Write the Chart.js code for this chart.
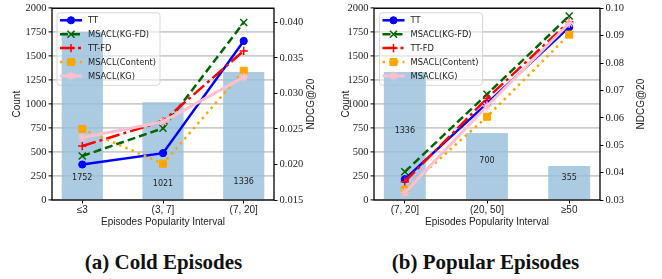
<!DOCTYPE html>
<html>
<head>
<meta charset="utf-8">
<script src="https://cdn.jsdelivr.net/npm/chart.js@4"></script>
<style>
  body { margin: 0; background: #fff; width: 662px; height: 279px; position: relative; overflow: hidden; }
  .panel { position: absolute; top: 0; width: 331px; height: 232px; }
  .caption { position: absolute; top: 249px; width: 331px; text-align: center;
             font: bold 21px "Liberation Serif", serif; color: #111; line-height: 26px; }
</style>
</head>
<body>
<div class="panel" style="left:0"><canvas id="cold"></canvas></div>
<div class="panel" style="left:331px"><canvas id="popular"></canvas></div>
<div class="caption" style="left:-2px">(a) Cold Episodes</div>
<div class="caption" style="left:320px">(b) Popular Episodes</div>
<script>
// values
const seriesNames = ["TT", "MSACL(KG-FD)", "TT-FD", "MSACL(Content)", "MSACL(KG)"];
const countTicks = [0, 250, 500, 750, 1000, 1250, 1500, 1750, 2000];

const coldCats = ["≤3", "(3, 7]", "(7, 20]"];
const coldCounts = [1752, 1021, 1336];
const coldTT = [0.0200, 0.0216, 0.0374];
const coldKGFD = [0.0212, 0.0251, 0.0400];
const coldTTFD = [0.0226, 0.0261, 0.0360];
const coldContent = [0.0250, 0.0201, 0.0332];
const coldKG = [0.0238, 0.0260, 0.0323];
const coldNdcgTicks = [0.015, 0.020, 0.025, 0.030, 0.035, 0.040];

const popCats = ["(7, 20]", "(20, 50]", "≥50"];
const popCounts = [1336, 700, 355];
const popTT = [0.0376, 0.0653, 0.0931];
const popKGFD = [0.0403, 0.0686, 0.0972];
const popTTFD = [0.0367, 0.0671, 0.0951];
const popContent = [0.0337, 0.0604, 0.0904];
const popKG = [0.0327, 0.0643, 0.0945];
const popNdcgTicks = [0.03, 0.04, 0.05, 0.06, 0.07, 0.08, 0.09, 0.10];

// line looks, same order as seriesNames
const looks = [
  { color: "#0000ff", dash: [], width: 2.5, point: "circle", r: 3.6, pw: 1 },
  { color: "#006400", dash: [8, 4], width: 2.5, point: "crossRot", r: 5, pw: 1.5 },
  { color: "#ff0000", dash: [14, 4, 3, 4], width: 2.5, point: "cross", r: 4.2, pw: 1.5 },
  { color: "#ffa500", dash: [2.5, 4.2], width: 2.5, point: "rect", r: 5, pw: 1 },
  { color: "#ffc0cb", dash: [], width: 3, point: "star", r: 4.5, pw: 1.5 },
];

function roundRect(ctx, x, y, w, h, r) {
  ctx.beginPath();
  ctx.moveTo(x + r, y);
  ctx.arcTo(x + w, y, x + w, y + h, r);
  ctx.arcTo(x + w, y + h, x, y + h, r);
  ctx.arcTo(x, y + h, x, y, r);
  ctx.arcTo(x, y, x + w, y, r);
  ctx.closePath();
}

function marker(ctx, lk, x, y) {
  ctx.fillStyle = lk.color;
  ctx.strokeStyle = lk.color;
  ctx.lineWidth = lk.pw;
  ctx.setLineDash([]);
  Chart.helpers.drawPoint(ctx, { pointStyle: lk.point, radius: lk.r, borderWidth: lk.pw, rotation: 0 }, x, y);
}

const decor = {
  id: "decor",
  beforeDatasetsDraw(chart, args, o) {
    const { ctx, chartArea: a } = chart;
    ctx.save();
    roundRect(ctx, a.left + o.legendDx, a.top + 4.5, 103, 72.5, 3);
    ctx.fillStyle = "rgba(255,255,255,0.55)";
    ctx.fill();
    ctx.strokeStyle = "#d8d8d8";
    ctx.lineWidth = 1;
    ctx.stroke();
    ctx.restore();
  },
  afterDatasetsDraw(chart, args, o) {
    const { ctx, chartArea: a, scales } = chart;
    ctx.save();
    // spines
    ctx.strokeStyle = "#000";
    ctx.lineWidth = 1.3;
    ctx.strokeRect(a.left, a.top, a.right - a.left, a.bottom - a.top);

    // legend entries
    const lx = a.left + o.legendDx;
    ctx.font = "8.3px 'DejaVu Sans'";
    ctx.textBaseline = "middle";
    seriesNames.forEach((name, i) => {
      const lk = looks[i];
      const y = a.top + 12 + i * 13.9;
      ctx.strokeStyle = lk.color;
      ctx.lineWidth = lk.width;
      ctx.setLineDash(lk.dash);
      ctx.beginPath();
      ctx.moveTo(lx + 3, y);
      ctx.lineTo(lx + 25, y);
      ctx.stroke();
      marker(ctx, lk, lx + 14, y);
      ctx.fillStyle = "#222";
      ctx.textAlign = "left";
      ctx.fillText(name, lx + 31, y + 0.5);
    });

    // counts inside bars
    ctx.font = "8px 'DejaVu Sans'";
    ctx.fillStyle = "#222";
    ctx.textAlign = "center";
    o.counts.forEach((c, i) => {
      ctx.fillText(String(c), scales.x.getPixelForValue(i), scales.y.getPixelForValue(o.labelAt[i]));
    });

    // y titles, both read bottom to top
    ctx.font = "10px 'Liberation Sans'";
    ctx.fillStyle = "#222";
    const mid = (a.top + a.bottom) / 2;
    [["Count", o.yTitleX], ["NDCG@20", o.y1TitleX]].forEach(([t, x]) => {
      ctx.save();
      ctx.translate(x, mid);
      ctx.rotate(-Math.PI / 2);
      ctx.fillText(t, 0, 0);
      ctx.restore();
    });
    ctx.restore();
  },
};

function makeChart(id, cats, counts, lines, ndcgTicks, ndcgMax, digits, lay) {
  const el = document.getElementById(id);
  el.width = 331;
  el.height = 232;
  const datasets = [
    {
      type: "bar",
      data: counts.map((v, i) => ({ x: i, y: v })),
      yAxisID: "y",
      backgroundColor: "rgba(150,190,219,0.8)",
      barPercentage: 0.51,
      categoryPercentage: 1,
      order: 10,
    },
  ];
  lines.forEach((vals, k) => {
    const lk = looks[k];
    datasets.push({
      type: "line",
      label: seriesNames[k],
      data: vals.map((v, i) => ({ x: i, y: v })),
      yAxisID: "y1",
      borderColor: lk.color,
      borderWidth: lk.width,
      borderDash: lk.dash,
      pointStyle: lk.point,
      pointRadius: lk.r,
      pointBorderWidth: lk.pw,
      pointBackgroundColor: lk.color,
      pointBorderColor: lk.color,
      tension: 0,
      fill: false,
      clip: false,
      order: 5 - k,
    });
  });

  const tickFont = { family: "'Liberation Serif'", size: 10.5 };
  return new Chart(el, {
    type: "bar",
    data: { datasets },
    options: {
      responsive: false,
      animation: false,
      devicePixelRatio: 1,
      layout: { padding: { top: 8, bottom: 0, left: 0, right: 0 } },
      plugins: {
        legend: { display: false },
        tooltip: { enabled: false },
        decor: {
          counts,
          labelAt: lay.labelAt,
          legendDx: lay.legendDx,
          yTitleX: lay.yTitleX,
          y1TitleX: lay.y1TitleX,
        },
      },
      scales: {
        x: {
          type: "linear",
          offset: false,
          min: -0.375,
          max: 2.375,
          afterBuildTicks: (s) => { s.ticks = cats.map((_, i) => ({ value: i })); },
          afterFit: (s) => { s.height = 32; },
          ticks: {
            autoSkip: false,
            maxRotation: 0,
            padding: 1,
            color: "#222",
            font: { family: "'Liberation Sans'", size: 10 },
            callback: (v) => cats[Math.round(v)],
          },
          grid: { drawOnChartArea: false, offset: false, tickLength: 3.5, tickColor: "#000", tickWidth: 1 },
          border: { display: false },
          title: {
            display: true,
            text: "Episodes Popularity Interval",
            color: "#222",
            font: { family: "'Liberation Sans'", size: 10 },
            padding: { top: 0, bottom: 4 },
          },
        },
        y: {
          position: "left",
          min: 0,
          max: 2000,
          afterBuildTicks: (s) => { s.ticks = countTicks.map((v) => ({ value: v })); },
          afterFit: (s) => { s.width = lay.yWidth; },
          ticks: { padding: 2, color: "#222", font: tickFont, callback: (v) => String(v) },
          grid: { color: "#cccccc", lineWidth: 1.8, tickColor: "#000", tickWidth: 1, tickLength: 3.5 },
          border: { display: false },
        },
        y1: {
          position: "right",
          min: ndcgTicks[0],
          max: ndcgMax,
          afterBuildTicks: (s) => { s.ticks = ndcgTicks.map((v) => ({ value: v })); },
          afterFit: (s) => { s.width = lay.y1Width; },
          ticks: { padding: 2, color: "#222", font: tickFont, callback: (v) => v.toFixed(digits) },
          grid: { drawOnChartArea: false, tickColor: "#000", tickWidth: 1, tickLength: 3.5 },
          border: { display: false },
        },
      },
    },
    plugins: [decor],
  });
}

makeChart("cold", coldCats, coldCounts, [coldTT, coldKGFD, coldTTFD, coldContent, coldKG],
  coldNdcgTicks, 0.0420, 3,
  { yWidth: 52, y1Width: 57, legendDx: 5, labelAt: [232, 167, 191], yTitleX: 17, y1TitleX: 311 });

makeChart("popular", popCats, popCounts, [popTT, popKGFD, popTTFD, popContent, popKG],
  popNdcgTicks, 0.10, 2,
  { yWidth: 43, y1Width: 62, legendDx: 5.5, labelAt: [722, 406, 232], yTitleX: 15, y1TitleX: 310 });
</script>
</body>
</html>
